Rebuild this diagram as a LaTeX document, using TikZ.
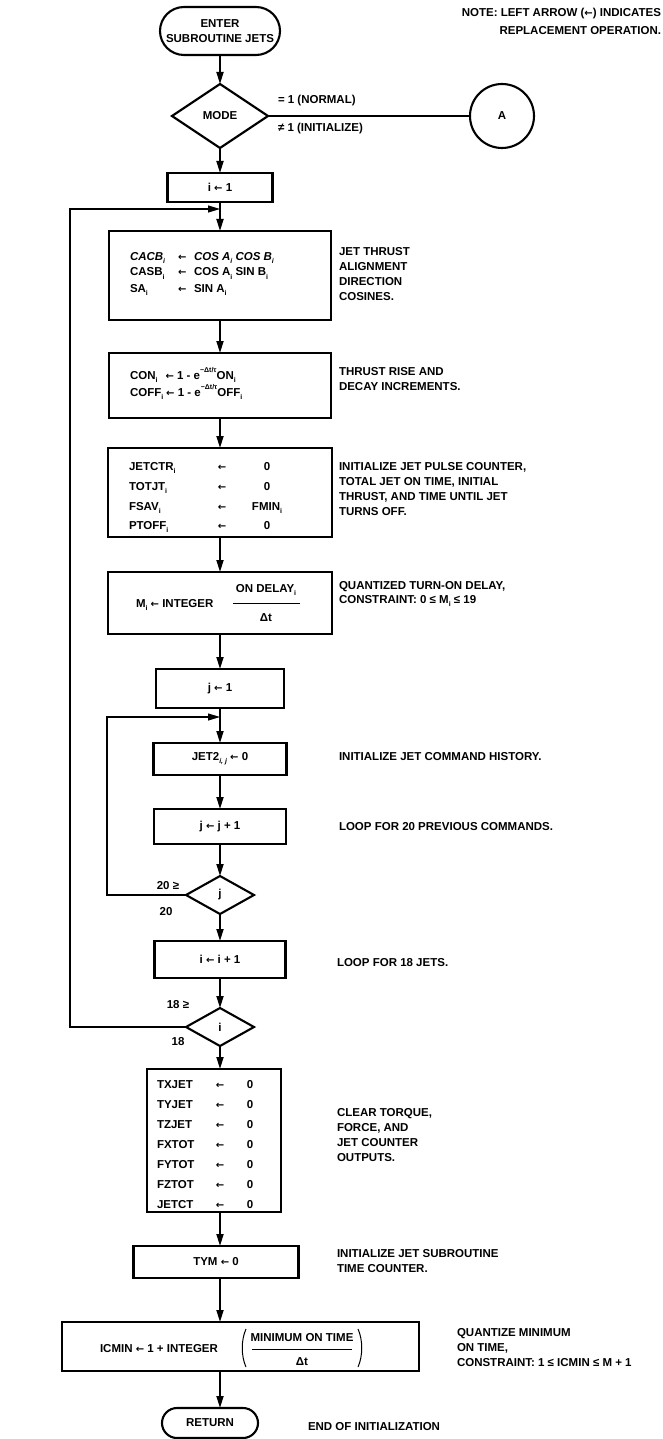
\documentclass[tikz,border=0pt]{standalone}
\usepackage{fontspec}
\setmainfont{Liberation Sans}
\newfontfamily\dvs{DejaVu Sans}
\usetikzlibrary{arrows.meta,shapes.geometric}
\newcommand\sbi[1]{\raisebox{-0.55ex}{\fontsize{7}{7}\selectfont #1}}
\newcommand\spx[1]{\raisebox{1.0ex}{\fontsize{7}{7}\selectfont #1}}
\newcommand\la{{\dvs\fontsize{10}{10}\selectfont ←}}
\begin{document}
\begin{tikzpicture}[x=1pt,y=-1pt,
  every node/.style={font=\bfseries\fontsize{11.5}{15}\selectfont, inner sep=0pt, outer sep=0pt},
  box/.style={draw, line width=2.1pt},
  term/.style={draw, line width=2.1pt, align=center},
  dia/.style={draw, diamond, line width=2.1pt},
  arr/.style={line width=1.7pt, -{Triangle[length=12pt,width=7pt]}},
  lp/.style={line width=1.1pt},
  cmt/.style={anchor=west, align=left},
  rule/.style={line width=0.7pt},
  tl/.style={anchor=base west},
  tc/.style={anchor=base}
]
\useasboundingbox[fill=white] (0,0) rectangle (663,1439);

% top
\node[term, rounded corners=24pt, minimum width=120pt, minimum height=48pt] (enter) at (220,31) {ENTER\\SUBROUTINE JETS};
\node[dia, minimum width=96pt, minimum height=64pt] (mode) at (220,116) {MODE};
\node[draw, circle, line width=2.1pt, minimum size=64pt] (A) at (502,116) {A};
\node[anchor=west] (nrm) at (278,101) {= 1 (NORMAL)};
\node[anchor=west] (ini) at (278,129) {≠ 1 (INITIALIZE)};
\node[anchor=north east, align=right, font=\bfseries\fontsize{11.5}{18}\selectfont] (note) at (661,8) {NOTE: LEFT ARROW (\la) INDICATES\\REPLACEMENT OPERATION.};

% i <- 1
\node[box, minimum width=105pt, minimum height=29pt] (i1) at (220,187.5) {i \la\ 1};
\coordinate (jo) at (220,209);

% direction cosines
\node[box, minimum width=222pt, minimum height=89pt] (cacb) at (220,275.5) {};
\node[tl] (ca1) at (130,260) {\itshape CACB\sbi{i}};
\node[tl] (ca2) at (178,260) {\la};
\node[tl] (ca3) at (194,260) {\itshape COS A\sbi{i} COS B\sbi{i}};
\node[tl] (cb1) at (130,276) {CASB\sbi{i}};
\node[tl] (cb2) at (178,276) {\la};
\node[tl] (cb3) at (194,276) {COS A\sbi{i} SIN B\sbi{i}};
\node[tl] (cc1) at (130,292) {SA\sbi{i}};
\node[tl] (cc2) at (178,292) {\la};
\node[tl] (cc3) at (194,292) {SIN A\sbi{i}};

% rise/decay
\node[box, minimum width=222pt, minimum height=65pt] (con) at (220,385.5) {};
\node[tl] (co1) at (130,379) {CON\sbi{i}\hspace{8pt}\la\ 1 - e\spx{−Δt/τ}ON\sbi{i}};
\node[tl] (cf1) at (130,396) {COFF\sbi{i}\hspace{3pt}\la\ 1 - e\spx{−Δt/τ}OFF\sbi{i}};

% jet counter init
\node[box, minimum width=224pt, minimum height=89pt] (jet) at (220,492.5) {};
\node[tl] (ja1) at (129,470) {JETCTR\sbi{i}};
\node[tc] (ja2) at (222,470) {\la};
\node[tc] (ja3) at (267,470) {0};
\node[tl] (jb1) at (129,490) {TOTJT\sbi{i}};
\node[tc] (jb2) at (222,490) {\la};
\node[tc] (jb3) at (267,490) {0};
\node[tl] (jc1) at (129,510) {FSAV\sbi{i}};
\node[tc] (jc2) at (222,510) {\la};
\node[tc] (jc3) at (267,510) {FMIN\sbi{i}};
\node[tl] (jd1) at (129,529) {PTOFF\sbi{i}};
\node[tc] (jd2) at (222,529) {\la};
\node[tc] (jd3) at (267,529) {0};

% M_i
\node[box, minimum width=224pt, minimum height=62pt] (mb) at (220,603) {};
\node[tl] (m1) at (136,607) {M\sbi{i} \la\ INTEGER};
\node[tc] (m2) at (266,592) {ON DELAY\sbi{i}};
\draw[rule] (233,603) -- (300,603);
\node[tc] (m3) at (266,621) {Δt};

% j loop
\node[box, minimum width=128pt, minimum height=39pt] (j1) at (220,688.5) {j \la\ 1};
\coordinate (ji) at (220,717);
\node[box, minimum width=133pt, minimum height=32pt] (jet2) at (220,759) {JET2\sbi{\itshape i, j} \la\ 0};
\node[box, minimum width=132pt, minimum height=35pt] (jj) at (220,826.5) {j \la\ j + 1};
\node[dia, minimum width=68pt, minimum height=38pt] (dj) at (220,895) {j};
\node (l20a) at (168,886) {20 ≥};
\node (l20b) at (166,912) {20};

% i loop end
\node[box, minimum width=131pt, minimum height=37pt] (ii) at (220,959.5) {i \la\ i + 1};
\node[dia, minimum width=68pt, minimum height=38pt] (di) at (220,1027) {i};
\node (l18a) at (178,1005) {18 ≥};
\node (l18b) at (178,1042) {18};

% clear outputs
\node[box, minimum width=134pt, minimum height=143pt] (tx) at (214,1140.5) {};
\foreach \n [count=\k from 0] in {TXJET,TYJET,TZJET,FXTOT,FYTOT,FZTOT,JETCT}{
  \node[tl] (xa\k) at (157,1088+20*\k) {\n};
  \node[tc] (xb\k) at (220,1088+20*\k) {\la};
  \node[tc] (xc\k) at (250,1088+20*\k) {0};
}

% TYM
\node[box, minimum width=165pt, minimum height=32pt] (tym) at (216,1262) {TYM \la\ 0};

% ICMIN
\node[box, minimum width=357pt, minimum height=49pt] (ic) at (240.5,1346.5) {};
\node[tl] (ic1) at (100,1352) {ICMIN \la\ 1 + INTEGER};
\draw[line width=1pt] (246,1329) .. controls (241,1340) and (241,1356) .. (246,1367);
\draw[line width=1pt] (358,1329) .. controls (363,1340) and (363,1356) .. (358,1367);
\node[tc] (ic2) at (302,1341) {MINIMUM ON TIME};
\draw[rule] (252,1349) -- (352,1349);
\node[tc] (ic3) at (302,1365) {Δt};

% RETURN
\node[term, rounded corners=15pt, minimum width=96pt, minimum height=30pt] (ret) at (210,1423) {RETURN};

% comments
\node[cmt] (c1) at (339,274) {JET THRUST\\ALIGNMENT\\DIRECTION\\COSINES.};
\node[cmt] (c2) at (339,379) {THRUST RISE AND\\DECAY INCREMENTS.};
\node[cmt] (c3) at (339,489.5) {INITIALIZE JET PULSE COUNTER,\\TOTAL JET ON TIME, INITIAL\\THRUST, AND TIME UNTIL JET\\TURNS OFF.};
\node[cmt, font=\bfseries\fontsize{11.5}{14}\selectfont] (c4) at (339,594) {QUANTIZED TURN-ON DELAY,\\CONSTRAINT: 0 ≤ M\sbi{i} ≤ 19};
\node[cmt] (c5) at (339,757) {INITIALIZE JET COMMAND HISTORY.};
\node[cmt] (c6) at (339,827) {LOOP FOR 20 PREVIOUS COMMANDS.};
\node[cmt] (c7) at (337,963) {LOOP FOR 18 JETS.};
\node[cmt] (c8) at (337,1135) {CLEAR TORQUE,\\FORCE, AND\\JET COUNTER\\OUTPUTS.};
\node[cmt] (c9) at (337,1261) {INITIALIZE JET SUBROUTINE\\TIME COUNTER.};
\node[cmt] (c10) at (457,1348) {QUANTIZE MINIMUM\\ON TIME,\\CONSTRAINT: 1 ≤ ICMIN ≤ M + 1};
\node[cmt] (c11) at (308,1427) {END OF INITIALIZATION};

% connectors
\draw[arr] (enter.south) -- (mode.north);
\draw[line width=1.7pt] (mode.east) -- (A.west);
\draw[arr] (mode.south) -- (i1.north);
\draw[arr] (i1.south) -- (cacb.north);
\draw[arr] (cacb.south) -- (con.north);
\draw[arr] (con.south) -- (jet.north);
\draw[arr] (jet.south) -- (mb.north);
\draw[arr] (mb.south) -- (j1.north);
\draw[arr] (j1.south) -- (jet2.north);
\draw[arr] (jet2.south) -- (jj.north);
\draw[arr] (jj.south) -- (dj.north);
\draw[arr] (dj.south) -- (ii.north);
\draw[arr] (ii.south) -- (di.north);
\draw[arr] (di.south) -- (di.south |- tx.north);
\draw[arr] (di.south |- tx.south) -- (di.south |- tym.north);
\draw[arr] (di.south |- tym.south) -- (di.south |- ic.north);
\draw[arr] (di.south |- ic.south) -- (di.south |- ret.north);
\coordinate (ox) at (70,0);
\coordinate (ix) at (107,0);
\draw[arr, lp] (di.west) -- (di.west -| ox) -- (jo -| ox) -- (jo);
\draw[arr, lp] (dj.west) -- (dj.west -| ix) -- (ji -| ix) -- (ji);
\end{tikzpicture}
\end{document}
